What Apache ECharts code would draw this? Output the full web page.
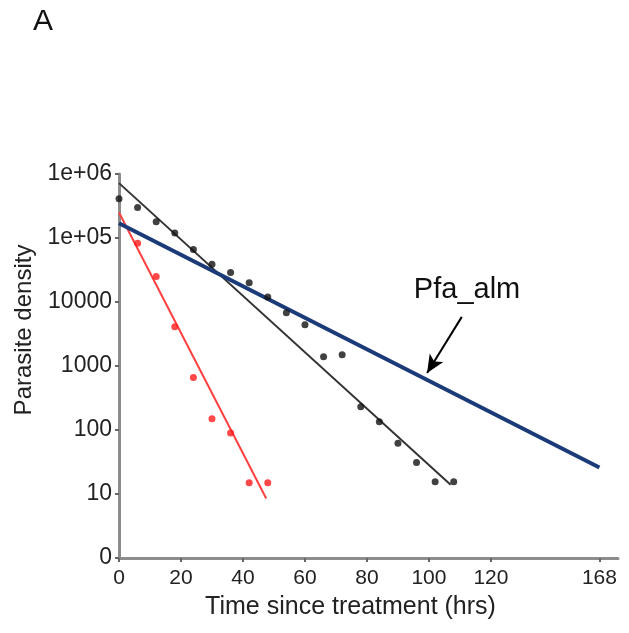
<!DOCTYPE html>
<html>
<head>
<meta charset="utf-8">
<script src="https://cdn.jsdelivr.net/npm/echarts@6/dist/echarts.min.js"></script>
<style>html,body{margin:0;padding:0;background:#fff}#c{width:629px;height:633px}</style>
</head>
<body>
<div id="c"></div>
<script>
// ---- data ----
var blackX = [0, 6, 12, 18, 24, 30, 36, 42, 48, 54, 60, 66, 72, 78, 84, 90, 96, 102, 108];
var blackY = [410000, 300000, 180000, 120000, 66000, 39000, 29000, 20000, 12000, 6800, 4400, 1400, 1500, 230, 135, 62, 31, 15.5, 15.5];
var blackFitX = [0, 107];
var blackFitY = [720000, 14];
var redX = [6, 12, 18, 24, 30, 36, 42, 48];
var redY = [83000, 25000, 4100, 660, 150, 90, 15, 15];
var redFitX = [0, 47.5];
var redFitY = [250000, 8.5];
var blueX = [0, 155];
var blueY = [170000, 26];
var arrowFrom = [110.6, 5860];
var arrowTo = [99.4, 776];
var noteAt = [112.3, 15500];
var noteText = 'Pfa_alm';
var xTickValues = [0, 20, 40, 60, 80, 100, 120, 155];
var xTickLabels = ['0', '20', '40', '60', '80', '100', '120', '168'];
var yTickValues = [1, 10, 100, 1000, 10000, 100000, 1000000];
var yTickLabels = ['0', '10', '100', '1000', '10000', '1e+05', '1e+06'];
var panelLabel = 'A';
var xName = 'Time since treatment (hrs)';
var yName = 'Parasite density';

function zip(xs, ys) { return xs.map(function (x, i) { return [x, ys[i]]; }); }

var FONT = "'Liberation Sans', Arial, sans-serif";
var chart = echarts.init(document.getElementById('c'));
chart.setOption({
  animation: false,
  backgroundColor: '#fff',
  title: {
    text: panelLabel, left: 28, top: 2,
    textStyle: { fontFamily: FONT, fontSize: 30, fontWeight: 'normal', color: '#111' }
  },
  grid: { left: 119, right: 11, top: 174, bottom: 75, containLabel: false, outerBoundsMode: 'none' },
  xAxis: {
    type: 'value', min: 0, max: 161,
    name: xName, nameLocation: 'middle', nameGap: 37,
    nameTextStyle: { fontFamily: FONT, fontSize: 25, color: '#222', padding: [0, 36, 0, 0] },
    axisLine: { show: true, lineStyle: { color: '#8c8c8c', width: 3 } },
    axisTick: { show: true, customValues: xTickValues, length: 4, lineStyle: { color: '#666', width: 2 } },
    axisLabel: {
      customValues: xTickValues, margin: 10,
      fontFamily: FONT, fontSize: 21, color: '#222',
      formatter: function (v) { var i = xTickValues.indexOf(v); return i >= 0 ? xTickLabels[i] : ''; }
    },
    splitLine: { show: false }
  },
  yAxis: {
    type: 'log', logBase: 10, min: 1, max: 1000000,
    name: yName, nameLocation: 'middle', nameGap: 82, nameRotate: 90,
    nameTextStyle: { fontFamily: FONT, fontSize: 24, color: '#222', padding: [0, 0, 0, 72] },
    axisLine: { show: true, lineStyle: { color: '#8c8c8c', width: 3 } },
    axisTick: { show: true, length: 4, lineStyle: { color: '#666', width: 2 } },
    axisLabel: {
      margin: 7, fontFamily: FONT, fontSize: 23, color: '#222',
      formatter: function (v) {
        for (var i = 0; i < yTickValues.length; i++) {
          if (Math.abs(v - yTickValues[i]) / yTickValues[i] < 1e-6) return yTickLabels[i];
        }
        return '';
      }
    },
    splitLine: { show: false },
    minorTick: { show: false }
  },
  series: [
    {
      type: 'line', data: zip(blueX, blueY), showSymbol: false, silent: true,
      lineStyle: { color: '#1b3b78', width: 4 }, z: 3,
      markLine: {
        silent: true, symbol: ['none', 'arrow'], symbolSize: [12, 18],
        lineStyle: { color: '#000', width: 2, type: 'solid' },
        label: { show: false },
        data: [[{ coord: arrowFrom }, { coord: arrowTo }]]
      },
      markPoint: {
        silent: true, symbol: 'rect', symbolSize: 1,
        itemStyle: { color: 'rgba(0,0,0,0)' },
        label: { show: true, position: 'inside', formatter: noteText, fontFamily: FONT, fontSize: 29, color: '#111' },
        data: [{ coord: noteAt }]
      }
    },
    {
      type: 'line', data: zip(blackFitX, blackFitY), showSymbol: false, silent: true,
      lineStyle: { color: '#333', width: 2 }, z: 2
    },
    {
      type: 'line', data: zip(redFitX, redFitY), showSymbol: false, silent: true,
      lineStyle: { color: '#ff4040', width: 2 }, z: 2
    },
    {
      type: 'scatter', data: zip(blackX, blackY), symbolSize: 7, silent: true,
      itemStyle: { color: '#111' }, z: 4
    },
    {
      type: 'scatter', data: zip(redX, redY), symbolSize: 7, silent: true,
      itemStyle: { color: '#ff1a1a' }, z: 4
    }
  ]
});
</script>
</body>
</html>
